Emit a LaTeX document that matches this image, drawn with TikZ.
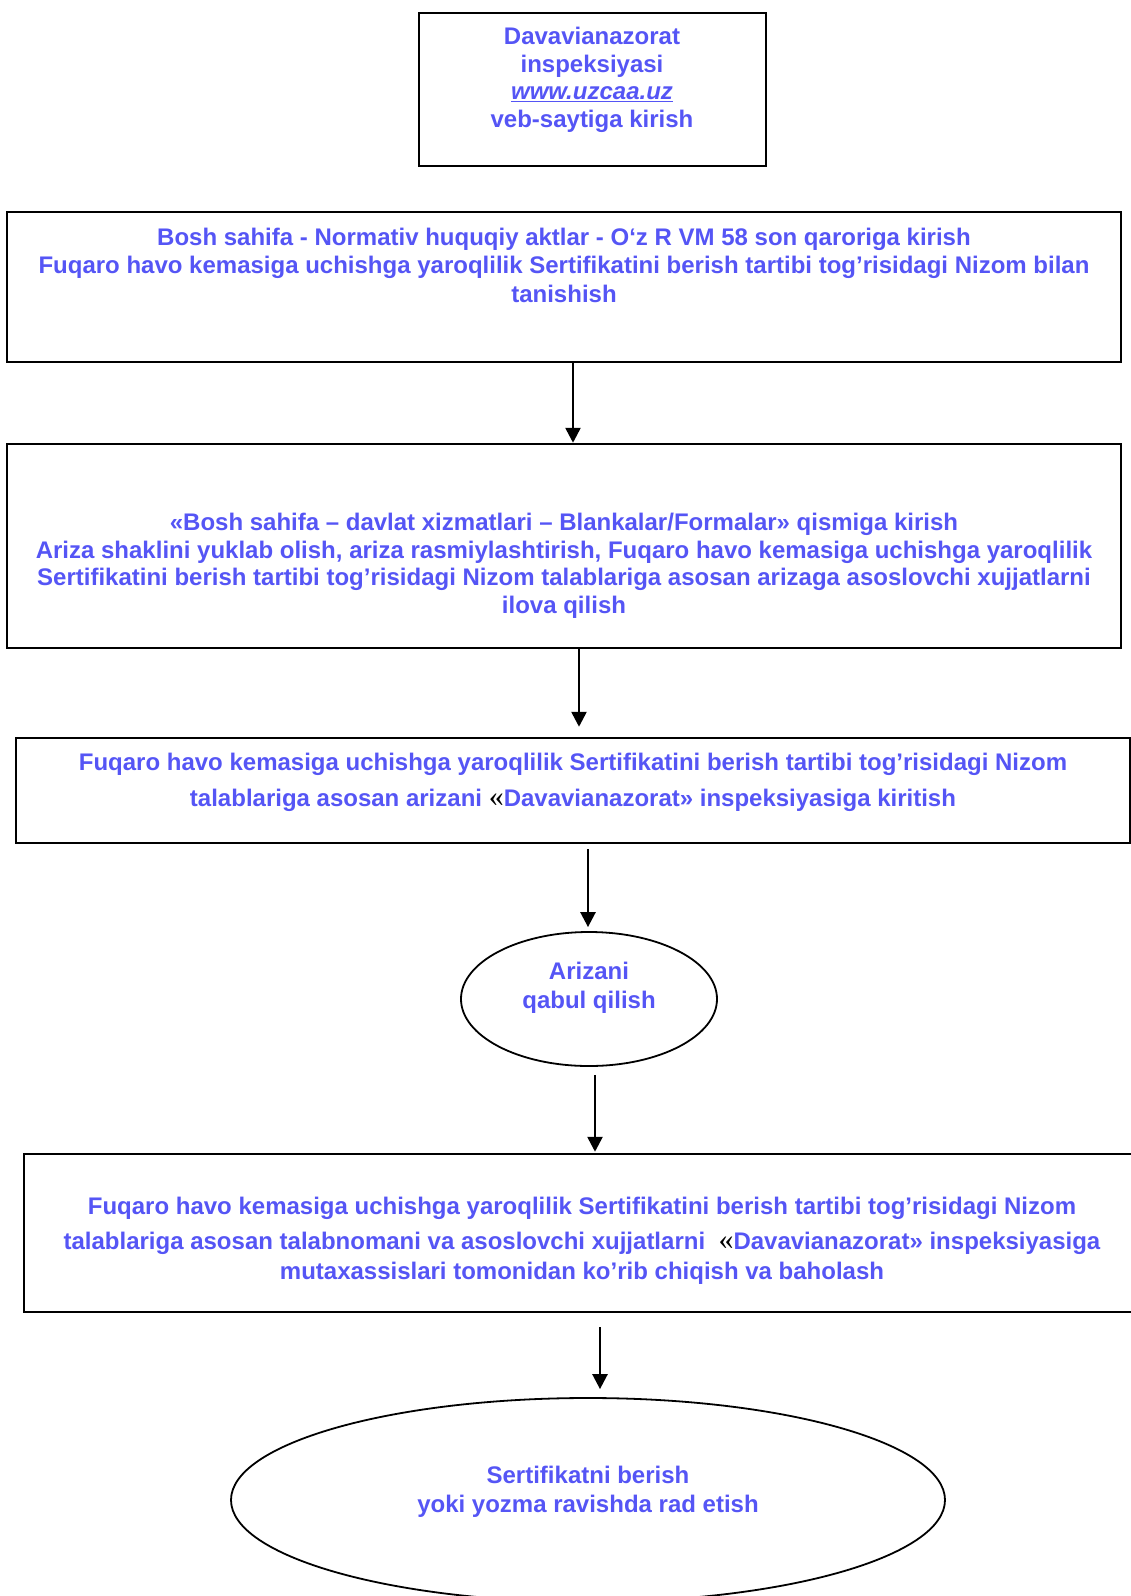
\documentclass[tikz,border=0pt]{standalone}
\usepackage{fontspec}
\setmainfont{Liberation Sans}
\newfontfamily\qfont{Liberation Serif}
\usetikzlibrary{arrows.meta,shapes.geometric}
\definecolor{txt}{RGB}{85,85,245}
\newcommand{\myopenq}{{\qfont\mdseries\fontsize{30}{30}\selectfont\color{black}«}}
\begin{document}
\begin{tikzpicture}[x=1pt,y=-1pt,
  box/.style={draw=black,line width=2.5pt,rectangle,inner sep=0pt},
  oval/.style={draw=black,line width=1.8pt,ellipse,inner sep=0pt},
  lbl/.style={text=txt,font=\fontsize{24}{27.5}\selectfont\bfseries,align=center,inner sep=0pt},
  arr/.style={line width=2.6pt,-{Triangle[length=15pt,width=15pt]}}]
\useasboundingbox (0,0) rectangle (1131,1596);
% boxes and ovals
\node[box,minimum width=347pt,minimum height=153pt] (b1) at (592.5,89.5) {};
\node[box,minimum width=1114pt,minimum height=150pt] (b2) at (564,287) {};
\node[box,minimum width=1114pt,minimum height=204pt] (b3) at (564,546) {};
\node[box,minimum width=1114pt,minimum height=105pt] (b4) at (573,790.5) {};
\node[oval,minimum width=256pt,minimum height=134pt] (e1) at (589,999) {};
\node[box,minimum width=1114pt,minimum height=158pt] (b5) at (581,1233) {};
\node[oval,minimum width=714pt,minimum height=204pt] (e2) at (588,1500) {};
% texts
\node[lbl] (t1) at (592,80) {Davavianazorat\\inspeksiyasi\\\underline{\textit{www.uzcaa.uz}}\\veb-saytiga kirish};
\node[lbl,font=\fontsize{24}{28.5}\selectfont\bfseries] (t2) at (564,265) {Bosh sahifa - Normativ huquqiy aktlar - O‘z R VM 58 son qaroriga kirish\\Fuqaro havo kemasiga uchishga yaroqlilik Sertifikatini berish tartibi tog’risidagi Nizom bilan\\tanishish};
\node[lbl] (t3) at (564,566) {«Bosh sahifa – davlat xizmatlari – Blankalar/Formalar» qismiga kirish\\Ariza shaklini yuklab olish, ariza rasmiylashtirish, Fuqaro havo kemasiga uchishga yaroqlilik\\Sertifikatini berish tartibi tog’risidagi Nizom talablariga asosan arizaga asoslovchi xujjatlarni\\ilova qilish};
\node[lbl,font=\fontsize{24}{36}\selectfont\bfseries] (t4) at (573,782) {Fuqaro havo kemasiga uchishga yaroqlilik Sertifikatini berish tartibi tog’risidagi Nizom\\talablariga asosan arizani \myopenq Davavianazorat» inspeksiyasiga kiritish};
\node[lbl,font=\fontsize{24}{30}\selectfont\bfseries] (t5) at (582,1241) {Fuqaro havo kemasiga uchishga yaroqlilik Sertifikatini berish tartibi tog’risidagi Nizom\\[5pt]talablariga asosan talabnomani va asoslovchi xujjatlarni\ \ \myopenq Davavianazorat» inspeksiyasiga\\mutaxassislari tomonidan ko’rib chiqish va baholash};
\node[lbl,font=\fontsize{24}{29.5}\selectfont\bfseries] (t6) at (589,988) {Arizani\\qabul qilish};
\node[lbl,font=\fontsize{24}{28.5}\selectfont\bfseries] (t7) at (588,1492) {Sertifikatni berish\\yoki yozma ravishda rad etish};
% arrows
\draw[arr] ([xshift=9pt]b2.south) -- ([xshift=9pt]b3.north);
\draw[arr,shorten >=10pt] ([xshift=15pt]b3.south) -- ([xshift=6pt]b4.north);
\draw[arr,shorten <=5pt,shorten >=4pt] ([xshift=15pt]b4.south) -- ([xshift=-1pt]e1.north);
\draw[arr,shorten <=8pt,shorten >=1pt] ([xshift=6pt]e1.south) -- ([xshift=14pt]b5.north);
\draw[arr,shorten <=14pt,shorten >=8pt] ([xshift=19pt]b5.south) -- ([xshift=12pt]e2.north);
\end{tikzpicture}
\end{document}
